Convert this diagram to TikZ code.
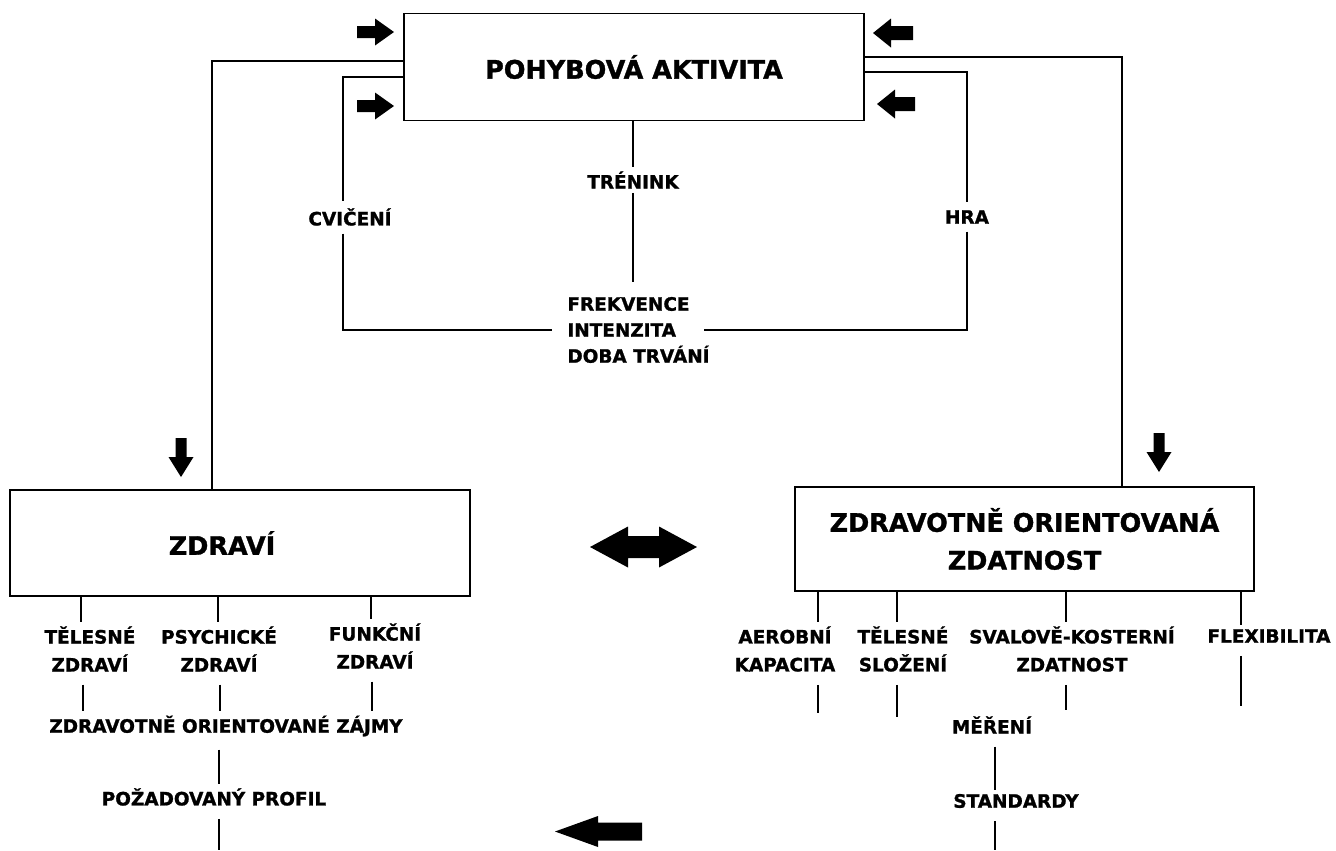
\documentclass[tikz,border=0pt]{standalone}
\usepackage{fontspec}
\setmainfont{DejaVu Sans}[BoldFeatures={FakeBold=1.2}]
\usepackage{tikz}

\tikzset{
  pics/blockarrow/.style args={#1/#2/#3/#4}{code={
    \fill (-#1/2,-#4) -- (#1/2-#2,-#4) -- (#1/2-#2,-#3) -- (#1/2,0)
      -- (#1/2-#2,#3) -- (#1/2-#2,#4) -- (-#1/2,#4) -- cycle;}},
  pics/dblarrow/.style args={#1/#2/#3/#4}{code={
    \fill (-#1/2,0) -- (-#1/2+#2,-#3) -- (-#1/2+#2,-#4) -- (#1/2-#2,-#4)
      -- (#1/2-#2,-#3) -- (#1/2,0) -- (#1/2-#2,#3) -- (#1/2-#2,#4)
      -- (-#1/2+#2,#4) -- (-#1/2+#2,#3) -- cycle;}}
}

\begin{document}
\begin{tikzpicture}[x=0.02cm, y=-0.02cm, line width=0.9pt,
  box/.style={draw, shape=rectangle, minimum width=9.2cm, minimum height=2.12cm},
  big/.style={font=\fontsize{14.5}{21.5}\selectfont\bfseries, align=center},
  lab/.style={font=\fontsize{10.5}{15.9}\selectfont\bfseries, align=center, inner sep=2pt},
  gapline/.style={shorten <=5pt}]
\useasboundingbox (0,0) rectangle (1336,850);

% boxes
\node [box, minimum height=2.14cm, big] (pak) at (634,67) {POHYBOVÁ AKTIVITA};
\node [box] (zdravi) at (240,543) {};
\node [big] (zdrtxt) at (222,543) {ZDRAVÍ};
\node [box, minimum width=9.18cm, minimum height=2.08cm, big] (zoz) at (1024.5,539) {ZDRAVOTNĚ ORIENTOVANÁ\\ZDATNOST};

% labels round the top box
\node [lab] (tren) at (633,180) {TRÉNINK};
\node [lab, inner sep=4pt] (cvic) at (350,217) {CVIČENÍ};
\node [lab, inner sep=4pt] (hra) at (967,217) {HRA};
\node [lab, align=left, font=\fontsize{10.5}{14.8}\selectfont\bfseries] (freq) at (638.5,330) {FREKVENCE\\INTENZITA\\DOBA TRVÁNÍ};

% labels under ZDRAVI
\node [lab] (tel) at (90,649) {TĚLESNÉ\\ZDRAVÍ};
\node [lab] (psy) at (219,649) {PSYCHICKÉ\\ZDRAVÍ};
\node [lab] (fun) at (375,646) {FUNKČNÍ\\ZDRAVÍ};
\node [lab] (zajmy) at (226,726) {ZDRAVOTNĚ ORIENTOVANÉ ZÁJMY};
\node [lab] (profil) at (214,797) {POŽADOVANÝ PROFIL};

% labels under ZOZ
\node [lab] (aer) at (785,649) {AEROBNÍ\\KAPACITA};
\node [lab] (slo) at (903,649) {TĚLESNÉ\\SLOŽENÍ};
\node [lab] (sval) at (1072,649) {SVALOVĚ-KOSTERNÍ\\ZDATNOST};
\node [lab] (flex) at (1269,636) {FLEXIBILITA};
\node [lab] (mer) at (992,725) {MĚŘENÍ};
\node [lab] (std) at (1016,801) {STANDARDY};

% lines from the top box
\draw (pak.west |- 0,61) -| (zdravi.north -| 212,0);
\draw (pak.east |- 0,57) -| (zoz.north -| 1122,0);
\draw (pak.west |- 0,77) -| (cvic.north -| 343,0);
\draw (cvic.south -| 343,0) |- ([xshift=-6.5pt]freq.west);
\draw (pak.east |- 0,72) -| (hra.north);
\draw (hra.south) |- ([xshift=-5.5pt]freq.east);
\draw (pak.south -| 633,0) -- (tren.north);
\draw [shorten >=6pt] (tren.south) -- (freq.north -| tren.south);

% lines under ZDRAVI
\draw (zdravi.south -| 81,0) -- (tel.north -| 81,0);
\draw (zdravi.south -| 218,0) -- (psy.north -| 218,0);
\draw (zdravi.south -| 371,0) -- (fun.north -| 371,0);
\draw [gapline] (tel.south -| 83,0) -- (zajmy.north -| 83,0);
\draw [gapline] (psy.south -| 220,0) -- (zajmy.north -| 220,0);
\draw [gapline] (fun.south -| 372,0) -- (zajmy.north -| 372,0);
\draw [gapline] (zajmy.south -| 219,0) -- (profil.north -| 219,0);
\coordinate (zdrEnd) at (219,850);
\draw [gapline] (profil.south -| zdrEnd) -- (zdrEnd);

% lines under ZOZ
\draw (zoz.south -| 818,0) -- (aer.north -| 818,0);
\draw (zoz.south -| 897,0) -- (slo.north -| 897,0);
\draw (zoz.south -| 1066,0) -- (sval.north -| 1066,0);
\draw (zoz.south -| 1241,0) -- (flex.north -| 1241,0);
\coordinate (aerEnd) at (818,713);
\coordinate (sloEnd) at (897,717);
\coordinate (svalEnd) at (1066,710);
\coordinate (flexEnd) at (1241,706);
\draw [gapline] (aer.south -| aerEnd) -- (aerEnd);
\draw [gapline] (slo.south -| sloEnd) -- (sloEnd);
\draw [gapline] (sval.south -| svalEnd) -- (svalEnd);
\draw [gapline] (flex.south -| flexEnd) -- (flexEnd);
\draw [gapline] (mer.south -| 995,0) -- (std.north -| 995,0);
\coordinate (stdEnd) at (995,850);
\draw [gapline] (std.south -| stdEnd) -- (stdEnd);

% block arrows
\pic (arLT) at (375.5,32) {blockarrow=37/19/13.5/6};
\pic (arLB) at (375.5,106) {blockarrow=37/19/13.5/6};
\pic [rotate=180] (arRT) at (893,33) {blockarrow=40/18/14.5/7};
\pic [rotate=180] (arRB) at (896,104) {blockarrow=38/18/14.5/7};
\pic [rotate=-90] (arZ) at (181,457.5) {blockarrow=39/20/12.5/5.5};
\pic [rotate=-90] (arO) at (1159,452.5) {blockarrow=39/20/12.5/5.5};
\pic (arD) at (643.5,547) {dblarrow=107/38/20.5/11};
\pic [rotate=180] (arB) at (598.5,831.5) {blockarrow=87/43/15.5/9};
\end{tikzpicture}
\end{document}
